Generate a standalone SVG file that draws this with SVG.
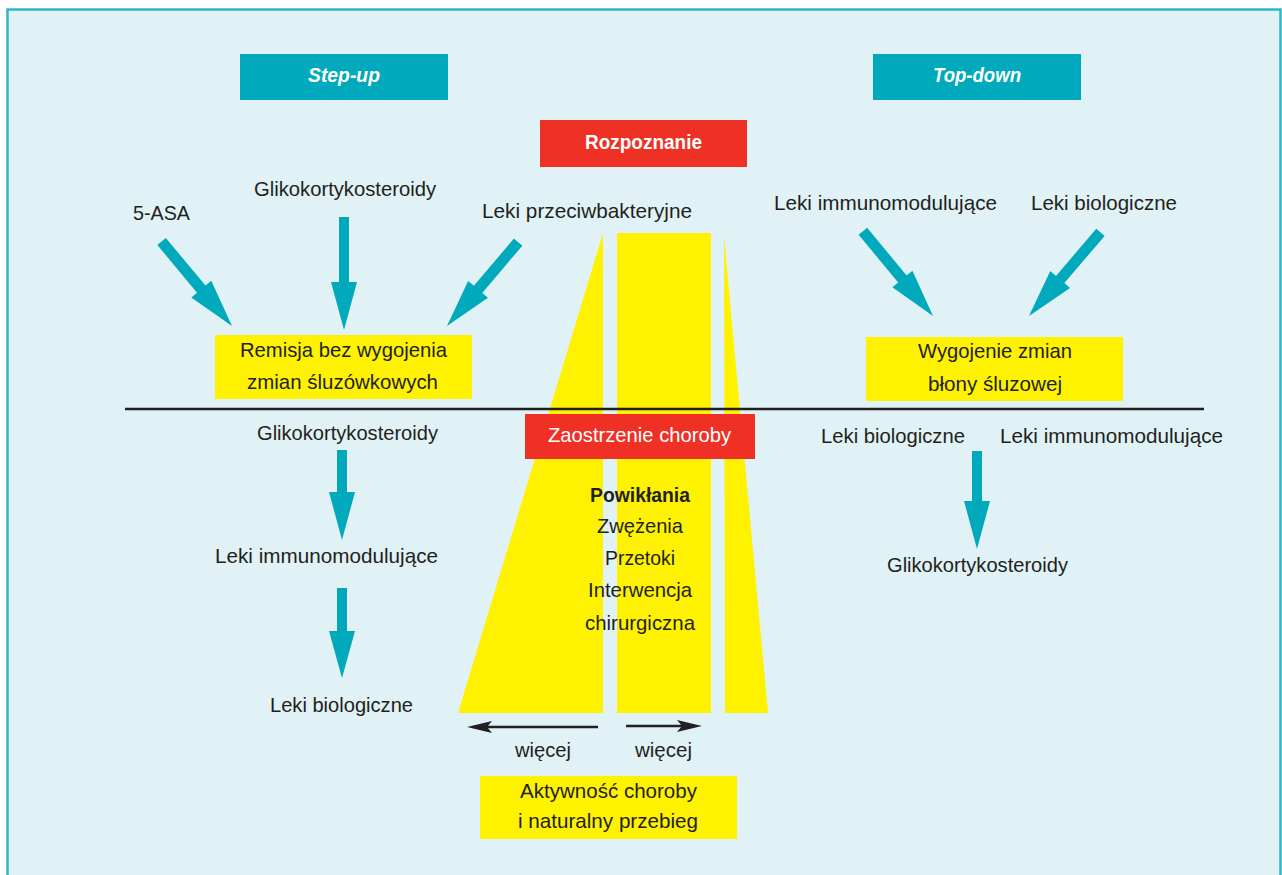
<svg xmlns="http://www.w3.org/2000/svg" xmlns:xlink="http://www.w3.org/1999/xlink" width="1282" height="875" viewBox="0 0 1282 875">
<style>
text{font-family:"Liberation Sans",Arial,sans-serif;font-size:21px;fill:#231f20;text-anchor:middle}
.hd{fill:#fff;font-weight:bold;font-style:italic}
.wb{fill:#fff;font-weight:bold}
.w{fill:#fff}
.b{font-weight:bold}
.teal{fill:#00a9bb}
.yel{fill:#fff200}
.red{fill:#ee3124}
.blk{fill:#231f20}
</style>
<defs>
<path id="darr" d="M-5.5,-110 L5.5,-110 L5.5,-48 L13,-48 L0,0 L-13,-48 L-5.5,-48 Z"/>
</defs>
<rect x="0" y="0" width="1282" height="875" fill="#ffffff"/>
<rect x="7.5" y="9.5" width="1273" height="880" fill="#e0f2f5" stroke="#2fb6c6" stroke-width="2.5"/>

<g id="bands">
<polygon class="yel" points="603,233 603,713 458,713"/>
<rect class="yel" x="617" y="233" width="94" height="480"/>
<polygon class="yel" points="724,236 768,713 725,713"/>
</g>

<line x1="125" y1="409" x2="1204" y2="409" stroke="#231f20" stroke-width="2.5"/>

<g id="step-up"><rect class="teal" x="240" y="54" width="208" height="46"/><text class="hd" x="344" y="82" textLength="72" lengthAdjust="spacingAndGlyphs">Step-up</text></g>
<g id="top-down"><rect class="teal" x="873" y="54" width="208" height="46"/><text class="hd" x="977" y="82" textLength="88" lengthAdjust="spacingAndGlyphs">Top-down</text></g>
<g id="rozpoznanie"><rect class="red" x="540" y="120" width="207" height="47"/><text class="wb" x="643.5" y="149" textLength="117" lengthAdjust="spacingAndGlyphs">Rozpoznanie</text></g>

<g id="asa"><text x="161.5" y="220" textLength="57" lengthAdjust="spacingAndGlyphs">5-ASA</text></g>
<g id="gks-top"><text x="345" y="196" textLength="182" lengthAdjust="spacingAndGlyphs">Glikokortykosteroidy</text></g>
<g id="antybiotyki"><text x="587" y="218" textLength="210" lengthAdjust="spacingAndGlyphs">Leki przeciwbakteryjne</text></g>

<g id="remisja"><rect class="yel" x="215" y="335" width="257" height="64"/>
<text x="343.5" y="357" textLength="207" lengthAdjust="spacingAndGlyphs">Remisja bez wygojenia</text>
<text x="342.5" y="389" textLength="191" lengthAdjust="spacingAndGlyphs">zmian śluzówkowych</text></g>

<g id="imm-top"><text x="885.5" y="210" textLength="223" lengthAdjust="spacingAndGlyphs">Leki immunomodulujące</text></g>
<g id="bio-top"><text x="1104" y="210" textLength="146" lengthAdjust="spacingAndGlyphs">Leki biologiczne</text></g>

<g id="wygojenie"><rect class="yel" x="866" y="337" width="257" height="64"/>
<text x="995" y="358" textLength="154" lengthAdjust="spacingAndGlyphs">Wygojenie zmian</text>
<text x="995" y="391" textLength="134" lengthAdjust="spacingAndGlyphs">błony śluzowej</text></g>

<g id="zaostrzenie"><rect class="red" x="525" y="414" width="230" height="45"/>
<text class="w" x="639.5" y="442" textLength="183" lengthAdjust="spacingAndGlyphs">Zaostrzenie choroby</text></g>

<g id="powiklania">
<text class="b" x="640" y="502" textLength="100" lengthAdjust="spacingAndGlyphs">Powikłania</text>
<text x="640" y="533" textLength="86" lengthAdjust="spacingAndGlyphs">Zwężenia</text>
<text x="640" y="565" textLength="70" lengthAdjust="spacingAndGlyphs">Przetoki</text>
<text x="640" y="597" textLength="104" lengthAdjust="spacingAndGlyphs">Interwencja</text>
<text x="640" y="630" textLength="110" lengthAdjust="spacingAndGlyphs">chirurgiczna</text>
</g>

<g id="gks-left"><text x="347.5" y="440" textLength="181" lengthAdjust="spacingAndGlyphs">Glikokortykosteroidy</text></g>
<g id="imm-left"><text x="326.5" y="563" textLength="223" lengthAdjust="spacingAndGlyphs">Leki immunomodulujące</text></g>
<g id="bio-left"><text x="341.5" y="712" textLength="143" lengthAdjust="spacingAndGlyphs">Leki biologiczne</text></g>

<g id="bio-right"><text x="893" y="443" textLength="144" lengthAdjust="spacingAndGlyphs">Leki biologiczne</text></g>
<g id="imm-right"><text x="1111.5" y="443" textLength="223" lengthAdjust="spacingAndGlyphs">Leki immunomodulujące</text></g>
<g id="gks-right"><text x="977.5" y="572" textLength="181" lengthAdjust="spacingAndGlyphs">Glikokortykosteroidy</text></g>

<g id="wiecej-l"><text x="543" y="757" textLength="56" lengthAdjust="spacingAndGlyphs">więcej</text></g>
<g id="wiecej-r"><text x="663.5" y="757" textLength="57" lengthAdjust="spacingAndGlyphs">więcej</text></g>

<g id="aktywnosc"><rect class="yel" x="480" y="776" width="257" height="63"/>
<text x="608.5" y="798" textLength="177" lengthAdjust="spacingAndGlyphs">Aktywność choroby</text>
<text x="608" y="828" textLength="180" lengthAdjust="spacingAndGlyphs">i naturalny przebieg</text></g>

<g id="connectors">
<use xlink:href="#darr" class="teal" transform="translate(232,326) rotate(-39.8)"/>
<use xlink:href="#darr" class="teal" transform="translate(447,326) rotate(40.3)"/>
<use xlink:href="#darr" class="teal" transform="translate(933,316) rotate(-39.6)"/>
<use xlink:href="#darr" class="teal" transform="translate(1029,316) rotate(40.5)"/>
<path class="teal" d="M339,217 H349 V282 H357 L344,330 L331,282 H339 Z"/>
<path class="teal" d="M337,450 H347 V492 H355 L342,540 L329,492 H337 Z"/>
<path class="teal" d="M337,588 H347 V631 H355 L342,678 L329,631 H337 Z"/>
<path class="teal" d="M972,451 H982 V501 H990 L977,549 L964,501 H972 Z"/>
<line x1="598" y1="727" x2="485" y2="727" stroke="#231f20" stroke-width="2.5"/>
<path class="blk" d="M467,727 L492,721 L487,727 L492,733 Z"/>
<line x1="626" y1="726" x2="685" y2="726" stroke="#231f20" stroke-width="2.5"/>
<path class="blk" d="M702,726 L677,720 L682,726 L677,732 Z"/>
</g>
</svg>
